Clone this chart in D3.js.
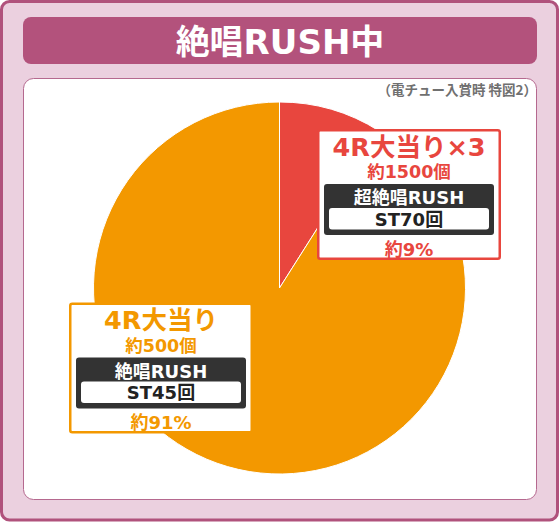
<!DOCTYPE html>
<html><head><meta charset="utf-8">
<script src="https://cdn.jsdelivr.net/npm/d3@7"></script>
<style>body{margin:0;background:#fff}svg{display:block}text{font-family:"DejaVu Sans","Noto Sans CJK JP",sans-serif;font-weight:700}</style>
</head><body>
<svg id="c" width="560" height="523"></svg>
<script>
// data
const title = "絶唱RUSH中";
const note = "（電チュー入賞時 特図2）";
const categories = ["4R大当り×3", "4R大当り"];
const shares = [9, 91];
const balls = ["約1500個", "約500個"];
const rushNames = ["超絶唱RUSH", "絶唱RUSH"];
const stLabels = ["ST70回", "ST45回"];
const pctLabels = ["約9%", "約91%"];

// styles / layout
const colors = ["#e8463e", "#f39800"];
const boxPos = [[317, 129], [69, 302.5]];
const W = 560, H = 523;
const svg = d3.select("#c");

svg.append("rect").attr("x",1.5).attr("y",1.5).attr("width",W-4).attr("height",H-4.5)
  .attr("rx",8).attr("fill","#ebd0df").attr("stroke","#b0527c").attr("stroke-width",3);
svg.append("rect").attr("x",23).attr("y",17).attr("width",514).attr("height",47)
  .attr("rx",8).attr("fill","#b3527c");
svg.append("text").attr("x",280).attr("y",54).attr("text-anchor","middle")
  .attr("fill","#fff").attr("font-size",34).text(title);
svg.append("rect").attr("x",23.5).attr("y",78.5).attr("width",513).attr("height",421)
  .attr("rx",10).attr("fill","#fff").attr("stroke","#b5698f").attr("stroke-width",1);
svg.append("text").attr("x",537).attr("y",95).attr("text-anchor","end")
  .style("font-family",'"Noto Sans CJK JP",sans-serif')
  .attr("fill","#707070").attr("font-size",13.5).text(note);

// pie
const cx = 279.5, cy = 288, r = 186;
const pie = d3.pie().sort(null).value(d => d)(shares);
const arc = d3.arc().innerRadius(0).outerRadius(r);
svg.append("g").attr("transform",`translate(${cx},${cy})`)
  .selectAll("path").data(pie).join("path")
  .attr("d", arc).attr("fill",(d,i)=>colors[i])
  .attr("stroke","#fff").attr("stroke-width",1);

// labels
const bw = 184, bh = 131;
categories.forEach((cat, i) => {
  const [x0, y0] = boxPos[i];
  const g = svg.append("g").attr("transform",`translate(${x0},${y0})`);
  const mid = bw/2;
  g.append("rect").attr("x",1.25).attr("y",1.25).attr("width",bw-2.5).attr("height",bh-2.5)
    .attr("rx",2).attr("fill","#fff").attr("stroke",colors[i]).attr("stroke-width",2.5);
  g.append("text").attr("x",mid).attr("y",26.5).attr("text-anchor","middle")
    .attr("fill",colors[i]).attr("font-size",25.5).text(cat);
  g.append("text").attr("x",mid).attr("y",49).attr("text-anchor","middle")
    .attr("fill",colors[i]).attr("font-size",17.5).text(balls[i]);
  g.append("rect").attr("x",7).attr("y",55).attr("width",bw-14).attr("height",51)
    .attr("rx",3).attr("fill","#333");
  g.append("text").attr("x",mid).attr("y",75).attr("text-anchor","middle")
    .attr("fill","#fff").attr("font-size",18).text(rushNames[i]);
  g.append("rect").attr("x",12).attr("y",79).attr("width",bw-24).attr("height",21.5)
    .attr("rx",3).attr("fill","#fff");
  g.append("text").attr("x",mid).attr("y",96.5).attr("text-anchor","middle")
    .attr("fill","#222").attr("font-size",18).text(stLabels[i]);
  g.append("text").attr("x",mid).attr("y",126.5).attr("text-anchor","middle")
    .attr("fill",colors[i]).attr("font-size",18).text(pctLabels[i]);
});
</script>
</body></html>
